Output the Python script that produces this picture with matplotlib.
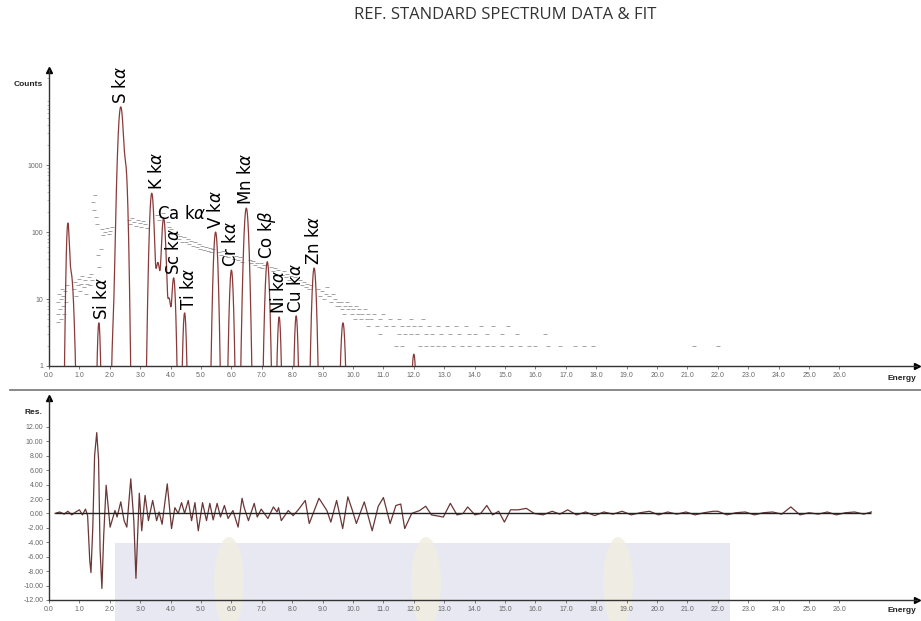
import numpy as np
import matplotlib.pyplot as plt
from matplotlib.lines import Line2D
from matplotlib.patches import Rectangle, Ellipse

plt.rcParams['axes.unicode_minus'] = False

# fitted peaks: centre (keV), height (counts), width sigma (keV)
peak_energy = [0.62, 0.72, 1.64, 2.13, 2.36, 2.52, 3.38, 3.58, 3.77, 3.95, 4.10, 4.46,
               5.48, 6.00, 6.49, 7.18, 7.57, 8.13, 8.72, 9.67, 12.00]
peak_height = [130, 25, 4.4, 4.0, 7400, 900, 380, 35, 162, 10, 20.6, 6.2,
               100, 27, 228, 36, 5.4, 5.6, 29, 4.4, 1.5]
peak_sigma = [0.035, 0.06, 0.035, 0.04, 0.06, 0.045, 0.05, 0.06, 0.05, 0.05, 0.045, 0.04,
              0.05, 0.045, 0.055, 0.05, 0.04, 0.04, 0.05, 0.05, 0.05]

# line labels and the peak each one sits on
line_names = ['Si k$\\alpha$', 'S k$\\alpha$', 'K k$\\alpha$', 'Ca k$\\alpha$', 'Sc k$\\alpha$',
              'Ti k$\\alpha$', 'V k$\\alpha$', 'Cr k$\\alpha$', 'Mn k$\\alpha$', 'Co k$\\beta$',
              'Ni k$\\alpha$', 'Cu k$\\alpha$', 'Zn k$\\alpha$']
line_peak = [2, 4, 6, 8, 10, 11, 12, 13, 14, 15, 16, 17, 18]

# measured spectrum (counts per channel)
data_energy = [
    0.28, 0.30, 0.31, 0.34, 0.36, 0.38, 0.40, 0.42, 0.45, 0.47, 0.50, 0.52, 0.55, 0.58,
    0.82, 0.86, 0.90, 0.95, 0.98, 1.02, 1.05, 1.10, 1.14, 1.18, 1.22, 1.26, 1.30, 1.34, 1.38, 1.42,
    1.44, 1.48, 1.52, 1.55, 1.58, 1.62, 1.66, 1.70, 1.74, 1.78, 1.84, 1.90, 1.96, 2.02, 2.08,
    2.62, 2.68, 2.74, 2.80, 2.86, 2.92, 2.98, 3.04, 3.10, 3.16, 3.22,
    3.55, 3.62, 3.70, 3.76, 3.90, 3.96, 4.02, 4.08,
    4.20, 4.26, 4.32, 4.38, 4.44, 4.50, 4.56, 4.62, 4.68, 4.74, 4.80, 4.86, 4.92, 4.98,
    5.04, 5.10, 5.16, 5.22, 5.28, 5.34, 5.40, 5.60, 5.66, 5.72, 5.78, 5.84, 5.90, 5.96,
    6.10, 6.16, 6.22, 6.28, 6.34, 6.60, 6.66, 6.72, 6.78, 6.84, 6.90, 6.96, 7.02, 7.08,
    7.30, 7.36, 7.42, 7.48, 7.54, 7.66, 7.72, 7.78, 7.84, 7.90, 7.96, 8.02, 8.08,
    8.26, 8.32, 8.38, 8.44, 8.50, 8.56, 8.62, 8.86, 8.92, 8.98, 9.04, 9.10, 9.16, 9.22,
    9.28, 9.34, 9.40, 9.46,
    9.50, 9.60, 9.80, 9.55, 9.75, 9.90, 10.10, 9.65, 9.85, 10.00, 10.20, 10.40,
    9.70, 9.95, 10.15, 10.30, 10.50, 10.70, 11.00,
    10.05, 10.25, 10.45, 10.60, 10.90, 11.20, 11.50, 11.90, 12.30,
    10.50, 10.80, 11.10, 11.30, 11.60, 11.80, 12.00, 12.20, 12.50, 12.80, 13.10, 13.40,
    13.70, 14.20, 14.60, 15.10,
    10.90, 11.50, 11.70, 11.90, 12.10, 12.40, 12.60, 12.90, 13.20, 13.50, 13.80, 14.00,
    14.40, 14.90, 15.40, 16.30,
    11.40, 11.60, 12.20, 12.40, 12.60, 12.80, 13.00, 13.30, 13.60, 13.80, 14.10, 14.40,
    14.60, 14.90, 15.20, 15.50, 15.80, 16.00, 16.40, 16.80, 17.30, 17.60, 17.90, 21.20, 22.00,
]
data_counts = [
    4.5, 6, 9, 12, 7, 5, 10, 14, 8, 11, 6, 13, 9, 16,
    14, 18, 11, 16, 20, 13, 17, 22, 15, 19, 12, 17, 21, 16, 24, 19,
    280, 210, 360, 170, 130, 45, 30, 55, 110, 90, 100, 115, 95, 105, 120,
    150, 130, 160, 140, 125, 150, 135, 120, 145, 130, 115,
    180, 150, 170, 190, 140, 120, 110, 95,
    95, 80, 88, 72, 84, 70, 78, 66, 74, 62, 70, 60, 66, 56,
    63, 54, 60, 52, 58, 50, 55, 50, 46, 52, 44, 48, 42, 47,
    40, 44, 38, 42, 36, 38, 34, 37, 32, 35, 30, 34, 29, 32,
    30, 26, 29, 24, 27, 23, 26, 21, 24, 19, 22, 18, 21,
    19, 16, 18, 15, 17, 14, 16, 14, 11, 13, 10, 12, 15, 11,
    9, 12, 10, 8,
    9, 9, 9, 8, 8, 8, 8, 7, 7, 7, 7, 7,
    6, 6, 6, 6, 6, 6, 6,
    5, 5, 5, 5, 5, 5, 5, 5, 5,
    4, 4, 4, 4, 4, 4, 4, 4, 4, 4, 4, 4,
    4, 4, 4, 4,
    3, 3, 3, 3, 3, 3, 3, 3, 3, 3, 3, 3,
    3, 3, 3, 3,
    2, 2, 2, 2, 2, 2, 2, 2, 2, 2, 2, 2,
    2, 2, 2, 2, 2, 2, 2, 2, 2, 2, 2, 2, 2,
]

# fit residuals
res_energy = [
    0.20, 0.35, 0.50, 0.62, 0.75, 0.88, 1.00, 1.10, 1.20, 1.27,
    1.34, 1.38, 1.44, 1.50, 1.57, 1.63, 1.68, 1.74, 1.80, 1.88, 2.01, 2.17, 2.24, 2.36,
    2.47, 2.56, 2.69, 2.79, 2.86, 2.97, 3.05, 3.16, 3.27, 3.41, 3.54, 3.62, 3.72, 3.89,
    4.03, 4.14, 4.25, 4.36, 4.46, 4.58, 4.69, 4.80, 4.91, 5.05, 5.18, 5.29, 5.40, 5.53,
    5.64, 5.77, 5.89, 6.05, 6.22, 6.35, 6.42, 6.56, 6.75, 6.85, 6.98, 7.20, 7.38, 7.50,
    7.55, 7.64, 7.87, 8.03, 8.20, 8.43, 8.56, 8.88, 9.14, 9.27, 9.46, 9.66, 9.83, 9.98,
    10.11, 10.37, 10.63, 10.83, 11.00, 11.22, 11.41, 11.57, 11.70, 11.93, 12.19, 12.39,
    12.58, 12.97, 13.20, 13.42, 13.62, 13.77, 14.01, 14.20, 14.40, 14.59, 14.79, 14.98,
    15.18, 15.44, 15.70, 15.96, 16.25, 16.55, 16.80, 17.06, 17.35, 17.65, 17.95, 18.25,
    18.55, 18.85, 19.15, 19.45, 19.75, 20.05, 20.35, 20.65, 20.95, 21.25, 21.55, 21.85,
    22.00, 22.30, 22.60, 22.90, 23.20, 23.50, 23.80, 24.10, 24.40, 24.70, 25.00, 25.30,
    25.60, 25.90, 26.20, 26.50, 26.80, 27.05,
]
res_value = [
    0.0, 0.2, -0.1, 0.3, -0.2, 0.2, 0.5, -0.2, 0.6, -0.3,
    -6.5, -8.2, -2.0, 8.0, 11.2, 7.5, -5.0, -10.4, -3.0, 3.9, -1.9, 0.4, -0.5, 1.6,
    -1.0, -1.9, 4.8, -1.0, -9.0, 2.8, -2.4, 2.5, -1.0, 1.8, -1.0, 0.2, -1.5, 4.1,
    -2.1, 0.8, 0.0, 1.5, 0.0, 1.8, -1.0, 1.5, -2.4, 1.5, -1.0, 1.4, -0.9, 1.4,
    -0.5, 1.1, -0.7, 0.4, -1.9, 2.1, 0.8, -1.0, 1.4, -0.5, 0.6, -0.7, 0.9, 0.2,
    0.8, -1.0, 0.4, -0.3, 0.5, 1.8, -1.4, 2.1, 0.4, -1.2, 1.8, -2.1, 2.3, 0.4,
    -1.4, 1.6, -2.4, 1.0, 2.2, -1.4, 1.1, 1.3, -2.1, 0.0, 0.4, 1.0,
    -0.2, -0.5, 1.4, -0.2, 0.0, 0.9, -0.2, 0.0, 1.1, -0.2, 0.3, -1.2,
    0.5, 0.5, 0.7, 0.0, -0.2, 0.3, -0.1, 0.5, -0.2, 0.2, -0.3, 0.2,
    -0.1, 0.3, -0.2, 0.1, 0.3, -0.2, 0.2, -0.1, 0.2, -0.2, 0.1, 0.3,
    0.3, -0.2, 0.1, 0.2, -0.2, 0.1, 0.2, -0.1, 0.9, -0.2, 0.1, -0.1,
    0.2, -0.2, 0.1, 0.2, -0.1, 0.2,
]

x_ticks = np.arange(0, 27, 1.0)
count_ticks = [1, 10, 100, 1000]
res_ticks = np.arange(-12, 13, 2)

W, H = 921, 621
fig = plt.figure(figsize=(W / 100, H / 100), dpi=100)

# faint watermark band along the bottom edge
fig.patches.append(Rectangle((115 / W, 0), 615 / W, 78 / H, transform=fig.transFigure,
                             facecolor='#e8e8f2', edgecolor='none', zorder=-2))
for cx in (229, 426, 618):
    fig.patches.append(Ellipse((cx / W, 38 / H), 30 / W, 92 / H, transform=fig.transFigure,
                               facecolor='#f1eee0', edgecolor='none', alpha=0.8, zorder=-1))

ax = fig.add_axes([49 / W, 1 - 366 / H, 868 / W, 296 / H])
ax2 = fig.add_axes([49 / W, 1 - 600 / H, 868 / W, 202 / H])

# fit = sum of gaussian peaks
grid = np.linspace(0, 28.55, 8000)
fit = np.zeros_like(grid)
for e0, h0, s0 in zip(peak_energy, peak_height, peak_sigma):
    fit += h0 * np.exp(-0.5 * ((grid - e0) / s0) ** 2)
fit = np.maximum(fit, 1e-3)

ax.plot(data_energy, data_counts, linestyle='none', marker='_', ms=2.5, mew=0.7,
        color='#a4a4a4', zorder=2)
ax.plot(grid, fit, color='#8b3a3a', lw=0.9, zorder=3)
ax.set_yscale('log')
ax.set_xlim(0, 28.55)
ax.set_ylim(1, 10 ** 4.42)

for name, i in zip(line_names, line_peak):
    e, h = peak_energy[i], peak_height[i]
    if name.startswith('Ca'):
        ax.annotate(name, (e, h), xytext=(-5, 3), textcoords='offset points',
                    ha='left', va='center', fontsize=12, zorder=4)
    else:
        dx = {'K': 4, 'Ti': 3, 'Si': 2}.get(name.split()[0], 0)
        ax.annotate(name, (e, h), xytext=(dx, 2), textcoords='offset points',
                    rotation=90, ha='center', va='bottom', fontsize=12, zorder=4)

ax2.plot(res_energy, res_value, color='#6a3636', lw=0.9, zorder=3)
ax2.hlines(0, res_energy[0], res_energy[-1], color='#222222', lw=1.0, zorder=4)
ax2.set_xlim(0, 28.55)
ax2.set_ylim(-12, 16)

tick_font = dict(fontsize=5, color='#666666', family='Liberation Sans')
for a in (ax, ax2):
    a.set_facecolor('none')
    a.spines['top'].set_visible(False)
    a.spines['right'].set_visible(False)
    for s in ('left', 'bottom'):
        a.spines[s].set_color('#333333')
        a.spines[s].set_linewidth(1.0)
    a.set_xticks(x_ticks)
    a.set_xticklabels([f'{v:.1f}' for v in x_ticks], **tick_font)
    a.tick_params(axis='both', which='major', length=2, width=0.6, color='#666666', pad=2)
    a.tick_params(axis='both', which='minor', length=1.5, width=0.4, color='#888888')
    # arrow heads on the axes
    a.plot(0, 1, marker='^', ms=4, color='black', transform=a.transAxes, clip_on=False)
    a.plot(1, 0, marker='>', ms=4, color='black', transform=a.transAxes, clip_on=False)

ax.set_yticks(count_ticks)
ax.set_yticklabels([str(v) for v in count_ticks], **tick_font)
ax2.set_yticks(res_ticks)
ax2.set_yticklabels([f'{v:.2f}' for v in res_ticks], **tick_font)

lab = dict(fontsize=6, weight='bold', color='#222222', family='Liberation Sans',
           ha='center', va='center')
fig.text(28 / W, 1 - 84 / H, 'Counts', **lab)
fig.text(33 / W, 1 - 413 / H, 'Res.', **lab)
fig.text(902 / W, 1 - 378 / H, 'Energy', **lab)
fig.text(902 / W, 1 - 610 / H, 'Energy', **lab)

# divider between the two panels
fig.add_artist(Line2D([10 / W, 1], [1 - 390 / H, 1 - 390 / H], color='#808080', lw=1.3))

fig.text(505 / W, 1 - 15 / H, 'REF. STANDARD SPECTRUM DATA & FIT', ha='center', va='center',
         fontsize=12, color='#333333', family='Open Sans')

fig.savefig('out.png', dpi=100)
